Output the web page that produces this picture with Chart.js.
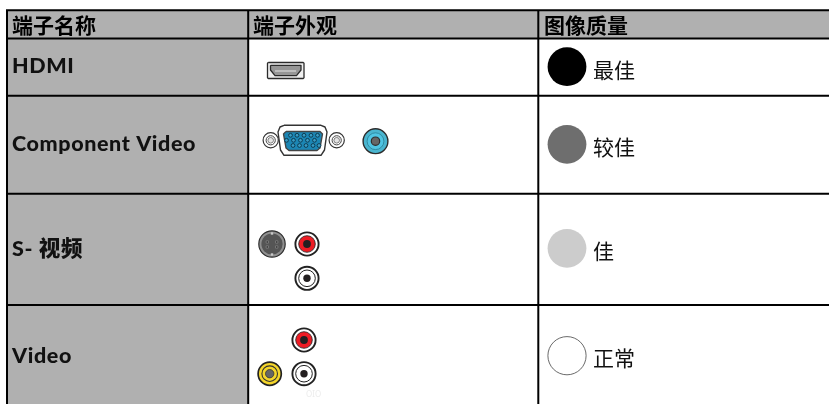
<!DOCTYPE html>
<html>
<head>
<meta charset="utf-8">
<style>
  html, body { margin: 0; padding: 0; background: #fff; }
  canvas { display: block; }
</style>
<script src="https://cdn.jsdelivr.net/npm/chart.js@4"></script>
</head>
<body>
<canvas id="tableChart" width="829" height="404"></canvas>
<script>
// table text
const headerLabels = ["端子名称", "端子外观", "图像质量"];
const rowLabels = ["HDMI", "Component Video", "S- 视频", "Video"];
const qualityLabels = ["最佳", "较佳", "佳", "正常"];
const ghostLabel = "OIO";

// table rules, in picture units
const columnRules = [7, 248.2, 538.3];
const rowRules = [10.3, 38.6, 95.7, 193.7, 305];
const tableBottom = 404;
const tableRight = 829;

// text anchors
const headerY = [25.5, 25.5, 25.5];
const headerX = [12, 253, 544];
const rowLabelY = [66, 144, 249, 356];
const rowLabelX = 12;
const qualityTextX = 593;
const qualityTextY = [70, 147, 251, 358];

// quality dots
const qualityX = [567, 567, 567, 567];
const qualityY = [66.7, 144.3, 248.3, 355.7];

// jacks: x and y
const redJackX = [307, 304];
const redJackY = [244, 340];
const whiteJackX = [307, 304];
const whiteJackY = [278.3, 373.7];
const yellowJackX = [269.7];
const yellowJackY = [373.7];
const cyanJackX = [375.5];
const cyanJackY = [141.2];
const sVideoX = [272];
const sVideoY = [244];
const sVideoPinX = [267.3, 276.7, 267.3, 276.7];
const sVideoPinY = [242, 242, 247, 247];
const sVideoKeyX = [272, 272];
const sVideoKeyY = [233.5, 254.5];

// VGA connector
const vgaEarX = [270.7, 336.7];
const vgaEarY = [140.3, 140.3];
const vgaShellX = [284, 321, 325, 327, 324.5, 321, 284, 280.5, 278, 280, 284];
const vgaShellY = [125.3, 125.3, 127, 132, 150, 155.3, 155.3, 150, 132, 127, 125.3];
const vgaPortX = [286, 320, 322.5, 320, 317, 289, 286, 283.5, 286];
const vgaPortY = [131.5, 131.5, 134, 148, 150.5, 150.5, 148, 134, 131.5];
const vgaPinX = [290.5, 297, 304, 311, 317.5, 286.5, 293.5, 300.5, 307.5, 314.5, 293, 299.5, 306, 313, 319];
const vgaPinY = [135.3, 135.3, 135.3, 135.3, 135.3, 140.3, 140.3, 140.3, 140.3, 140.3, 145.5, 145.5, 145.5, 145.5, 145.5];

// HDMI connector
const hdmiFrameX = [268.3, 303.2, 304, 304, 303.2, 268.3, 267.5, 267.5, 268.3];
const hdmiFrameY = [62.5, 62.5, 63.2, 77.8, 78.5, 78.5, 77.8, 63.2, 62.5];
const hdmiBodyX = [270.5, 301, 301, 296.5, 275, 270.5, 270.5];
const hdmiBodyY = [65.3, 65.3, 70, 75.6, 75.6, 70, 65.3];
const hdmiSlotX = [275, 296];
const hdmiSlotY = [71, 71];

function pairs(xs, ys) {
  return xs.map((x, i) => ({ x: x, y: ys[i] }));
}

// one layer of round marks
function dots(xs, ys, radius, fill, stroke, strokeWidth, style) {
  return {
    data: pairs(xs, ys),
    pointRadius: radius,
    pointBackgroundColor: fill,
    pointBorderColor: stroke || fill,
    pointBorderWidth: strokeWidth || 0,
    pointStyle: style || "circle",
    showLine: false
  };
}

function rule(x0, y0, x1, y1) {
  return {
    data: [{ x: x0, y: y0 }, { x: x1, y: y1 }],
    showLine: true,
    borderColor: "#000",
    borderWidth: 2,
    pointRadius: 0,
    fill: false
  };
}

function band(x0, x1, y0, y1) {
  return {
    data: [{ x: x0, y: y0 }, { x: x1, y: y0 }],
    showLine: true,
    borderWidth: 0,
    pointRadius: 0,
    fill: { value: y1 },
    backgroundColor: "#b0b0b0"
  };
}

function shape(xs, ys, fill, stroke, width) {
  return {
    data: pairs(xs, ys),
    showLine: true,
    borderColor: stroke,
    borderWidth: width,
    borderJoinStyle: "round",
    pointRadius: 0,
    fill: "shape",
    backgroundColor: fill
  };
}

// listed bottom layer first, chart.js paints the first dataset last
const layers = [];

// grey bands
layers.push(band(columnRules[0], tableRight, rowRules[0], rowRules[1]));
layers.push(band(columnRules[0], columnRules[1], rowRules[1], tableBottom));

// rules
rowRules.forEach(y => layers.push(rule(columnRules[0] - 1, y, tableRight, y)));
columnRules.forEach(x => layers.push(rule(x, rowRules[0], x, tableBottom)));

// quality dots
layers.push(dots([qualityX[0]], [qualityY[0]], 19.4, "#000"));
layers.push(dots([qualityX[1]], [qualityY[1]], 19.4, "#6e6e6e"));
layers.push(dots([qualityX[2]], [qualityY[2]], 19.4, "#cccccc"));
layers.push(dots([qualityX[3]], [qualityY[3]], 19.1, "#fff", "#444", 0.8));

// HDMI
layers.push(shape(hdmiFrameX, hdmiFrameY, "#f0f0f0", "#2b2b2b", 1.3));
layers.push(shape(hdmiBodyX, hdmiBodyY, "#969696", "#2b2b2b", 1.3));
layers.push(shape(hdmiSlotX, hdmiSlotY, "#d8d8d8", "#d8d8d8", 1.2));

// VGA
layers.push(dots(vgaEarX, vgaEarY, 7.6, "#fff", "#333", 1.2));
layers.push(dots(vgaEarX, vgaEarY, 4.6, "#fff", "#444", 1));
layers.push(dots(vgaEarX, vgaEarY, 2.8, "#e4e4e4", "#666", 0.8));
layers.push(shape(vgaShellX, vgaShellY, "#fff", "#333", 1.4));
layers.push(shape(vgaPortX, vgaPortY, "#1b86b4", "#444", 1.4));
layers.push(dots(vgaPinX, vgaPinY, 1.9, "#3a9cc4", "#0d3c52", 1));

// cyan jack
layers.push(dots(cyanJackX, cyanJackY, 12.4, "#4ab5cf", "#2c2c2c", 1.4));
layers.push(dots(cyanJackX, cyanJackY, 8.4, "#4fc4e2", "#2a7f94", 0.8));
layers.push(dots(cyanJackX, cyanJackY, 4.2, "#666", "#2f2f2f", 1.2));

// s-video
layers.push(dots(sVideoX, sVideoY, 13.2, "#8f8f8f", "#2f2f2f", 1.2));
layers.push(dots(sVideoX, sVideoY, 10.6, "#555"));
layers.push(dots(sVideoPinX, sVideoPinY, 1.6, "#2b2b2b", "#999", 0.6, "rect"));
layers.push(dots(sVideoKeyX, sVideoKeyY, 1.7, "#c8c8c8", "#c8c8c8", 0, "rect"));

// red and white jacks
layers.push(dots(redJackX, redJackY, 11.6, "#fff", "#222", 1.9));
layers.push(dots(redJackX, redJackY, 8.3, "#ed1c24", "#222", 0.8));
layers.push(dots(redJackX, redJackY, 3.9, "#231f20"));
layers.push(dots(whiteJackX, whiteJackY, 11.6, "#fff", "#222", 1.9));
layers.push(dots(whiteJackX, whiteJackY, 8.3, "#fff", "#222", 1));
layers.push(dots(whiteJackX, whiteJackY, 3.7, "#231f20"));

// yellow jack
layers.push(dots(yellowJackX, yellowJackY, 11.6, "#f4d52a", "#222", 1.7));
layers.push(dots(yellowJackX, yellowJackY, 7.8, "#f4d52a", "#333", 1.1));
layers.push(dots(yellowJackX, yellowJackY, 4.2, "#666", "#333", 0.8));

// table text, placed through the same scales as the marks
const tableText = {
  id: "tableText",
  afterDatasetsDraw(chart) {
    const ctx = chart.ctx;
    const sx = chart.scales.x;
    const sy = chart.scales.y;
    const put = (text, x, y, font, color, spacing) => {
      ctx.font = font;
      ctx.fillStyle = color;
      ctx.letterSpacing = spacing || "0px";
      ctx.fillText(text, sx.getPixelForValue(x), sy.getPixelForValue(y));
    };
    ctx.save();
    ctx.textAlign = "left";
    ctx.textBaseline = "middle";
    const bold = '700 21px "Noto Sans CJK SC"';
    const rowFont = '900 21.5px Lato, "Noto Sans CJK SC"';
    headerLabels.forEach((t, i) => put(t, headerX[i], headerY[i], bold, "#000"));
    rowLabels.forEach((t, i) => put(t, rowLabelX, rowLabelY[i], rowFont, "#111", "0.6px"));
    qualityLabels.forEach((t, i) => put(t, qualityTextX, qualityTextY[i], '400 21px "Noto Sans CJK SC"', "#111"));
    put(ghostLabel, 306, 395, '400 8px "Noto Sans"', "#ececec");
    ctx.restore();
  }
};

new Chart(document.getElementById("tableChart"), {
  type: "scatter",
  data: { datasets: layers.reverse() },
  options: {
    responsive: false,
    animation: false,
    layout: { padding: 0, autoPadding: false },
    elements: { line: { tension: 0 } },
    plugins: { legend: { display: false }, tooltip: { enabled: false }, title: { display: false } },
    scales: {
      x: { type: "linear", min: 0, max: 829, display: false },
      y: { type: "linear", min: 0, max: 404, reverse: true, display: false }
    }
  },
  plugins: [tableText]
});
</script>
</body>
</html>
